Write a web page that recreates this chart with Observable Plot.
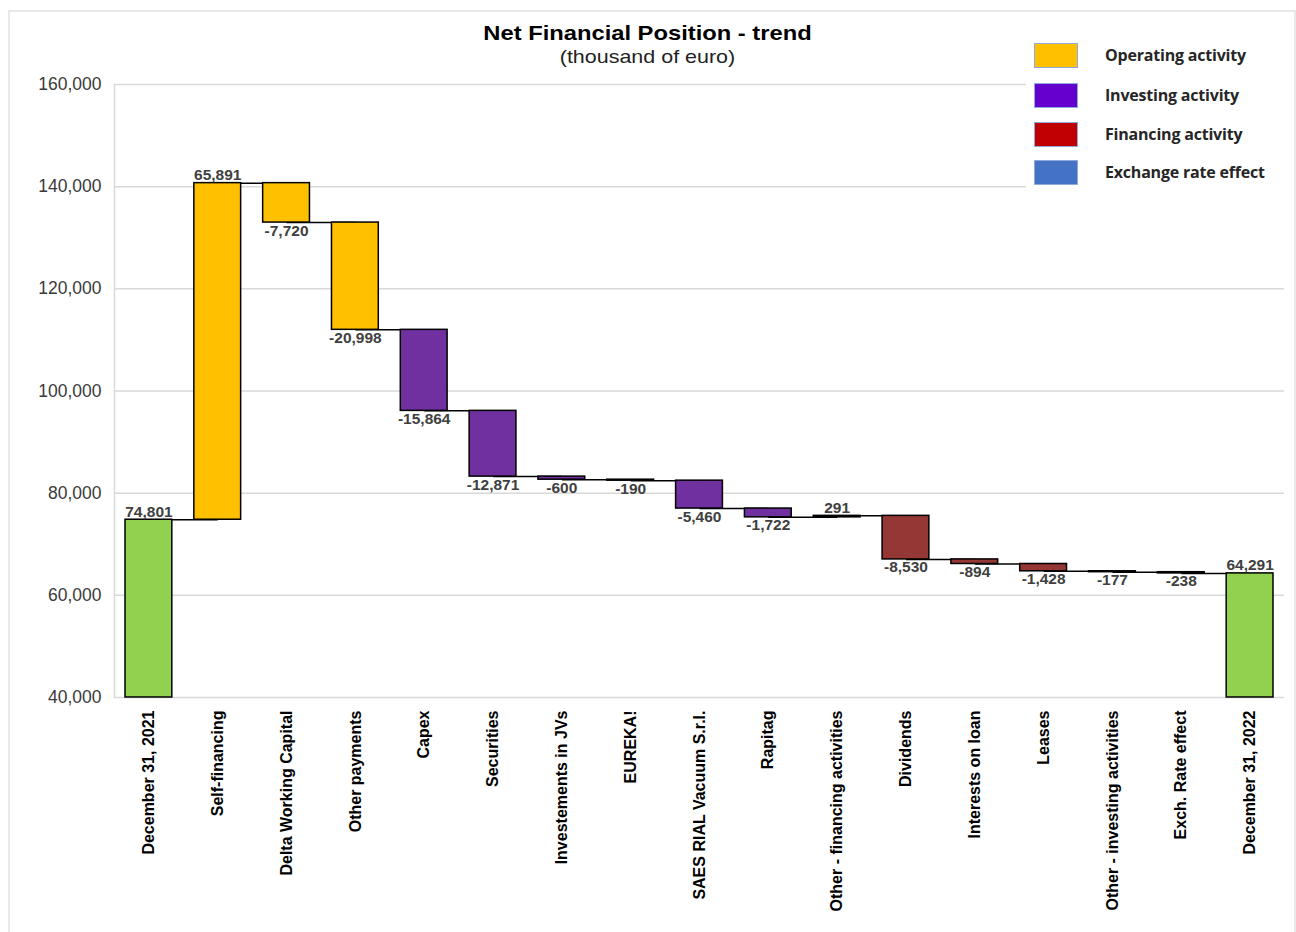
<!DOCTYPE html>
<html>
<head>
<meta charset="utf-8">
<script src="https://cdn.jsdelivr.net/npm/d3@7"></script>
<script src="https://cdn.jsdelivr.net/npm/@observablehq/plot@0.6"></script>
<style>
  html, body { margin: 0; padding: 0; background: #fff; }
  #wrap { position: relative; width: 1296px; height: 932px; overflow: hidden; font-family: "Liberation Sans", Arial, sans-serif; }
  #frame { position: absolute; left: 8px; top: 10px; width: 1288px; height: 925px; border: 2px solid #e9e9e9; box-sizing: border-box; pointer-events: none; }
  #title { position: absolute; left: 0; top: 21px; width: 1296px; text-align: center; transform: scaleX(1.13); transform-origin: 652px 0; }
  #title .t { font-size: 21px; font-weight: bold; color: #000; line-height: 24px; }
  #title .s { font-size: 19px; color: #222; line-height: 24px; }
  #chart { position: absolute; left: 0; top: 70px; }
  #legend { position: absolute; left: 1026px; top: 36px; width: 262px; height: 158px; background: #fff; font-family: "Open Sans", sans-serif; font-weight: 700; font-size: 16px; color: #262626; }
  #legend .item { position: absolute; left: 0; height: 26px; }
  #legend .sw { position: absolute; left: 8px; top: 0; width: 44px; height: 25px; box-sizing: border-box; border: 1.5px solid #8ea9db; }
  #legend .lb { position: absolute; left: 79px; top: 0; line-height: 25px; white-space: nowrap; letter-spacing: -0.2px; }
</style>
</head>
<body>
<div id="wrap">
  <div id="chart"></div>
  <div id="title"><div class="t">Net Financial Position - trend</div><div class="s">(thousand of euro)</div></div>
  <div id="legend"></div>
  <div id="frame"></div>
</div>
<script>
const categories = [
  "December 31, 2021", "Self-financing", "Delta Working Capital", "Other payments",
  "Capex", "Securities", "Investements in JVs", "EUREKA!", "SAES RIAL Vacuum S.r.l.",
  "Rapitag", "Other - financing activities", "Dividends", "Interests on loan", "Leases",
  "Other - investing activities", "Exch. Rate effect", "December 31, 2022"
];
const values = [74801, 65891, -7720, -20998, -15864, -12871, -600, -190, -5460, -1722, 291, -8530, -894, -1428, -177, -238, 64291];
const groups = ["total", "operating", "operating", "operating", "investing", "investing", "investing", "investing", "investing", "investing", "financing", "financing", "financing", "financing", "investing", "exchange", "total"];
const yTicks = [40000, 60000, 80000, 100000, 120000, 140000, 160000];

const groupNames = ["total", "operating", "investing", "financing", "exchange"];
const groupColors = ["#92D050", "#FFC000", "#7030A0", "#953735", "#4472C4"];
const legendLabels = ["Operating activity", "Investing activity", "Financing activity", "Exchange rate effect"];
const legendColors = ["#FFC000", "#6600CC", "#C00000", "#4472C4"];
const legendTops = [7, 47, 86, 124];

// build waterfall table
const rows = [];
let level = 0;
categories.forEach((c, i) => {
  const v = values[i];
  let y1, y2;
  if (groups[i] === "total") { y1 = 40000; y2 = v; level = v; }
  else { y1 = level; y2 = level + v; level = y2; }
  rows.push({cat: c, value: v, group: groups[i], y1, y2, lo: Math.min(y1, y2), hi: Math.max(y1, y2), next: categories[i + 1], level});
});
const links = rows.filter(d => d.next);
const fmt = v => (v < 0 ? "-" : "") + d3.format(",")(Math.abs(v));

const chart = Plot.plot({
  width: 1296,
  height: 862,
  marginTop: 14,
  marginBottom: 235,
  marginLeft: 114,
  marginRight: 12,
  style: {fontFamily: "'Liberation Sans', Arial, sans-serif", background: "transparent"},
  x: {domain: categories, paddingInner: 0.32, paddingOuter: 0.16, round: false, label: null},
  y: {domain: [40000, 160000], label: null},
  color: {domain: groupNames, range: groupColors},
  marks: [
    Plot.ruleY(yTicks, {stroke: "#d9d9d9", strokeWidth: 1.5}),
    Plot.frame({anchor: "left", stroke: "#d9d9d9", strokeWidth: 1.5}),
    Plot.axisY({ticks: yTicks, tickSize: 0, tickPadding: 13, tickFormat: d3.format(","), fontSize: 17.5, fill: "#3a3a3a", label: null}),
    Plot.axisX({tickSize: 0, tickPadding: 13, tickRotate: -90, fontSize: 16, fontWeight: "bold", fill: "#000", label: null}),
    Plot.link(links, {x1: "cat", x2: "next", y1: "level", y2: "level", stroke: "#000", strokeWidth: 1.5}),
    Plot.barY(rows, {x: "cat", y1: "y1", y2: "y2", fill: "group", stroke: "#000", strokeWidth: 1.5}),
    Plot.text(rows.filter(d => d.value >= 0), {x: "cat", y: "hi", text: d => fmt(d.value), lineAnchor: "bottom", dy: -3, fontSize: 15.5, fontWeight: "bold", fill: "#404040"}),
    Plot.text(rows.filter(d => d.value < 0), {x: "cat", y: "lo", text: d => fmt(d.value), lineAnchor: "top", dy: 2, fontSize: 15.5, fontWeight: "bold", fill: "#404040"})
  ]
});
document.getElementById("chart").appendChild(chart);

// legend
const leg = document.getElementById("legend");
legendLabels.forEach((l, i) => {
  const it = document.createElement("div");
  it.className = "item";
  it.style.top = legendTops[i] + "px";
  it.innerHTML = `<div class="sw" style="background:${legendColors[i]}"></div><div class="lb">${l}</div>`;
  leg.appendChild(it);
});
</script>
</body>
</html>
